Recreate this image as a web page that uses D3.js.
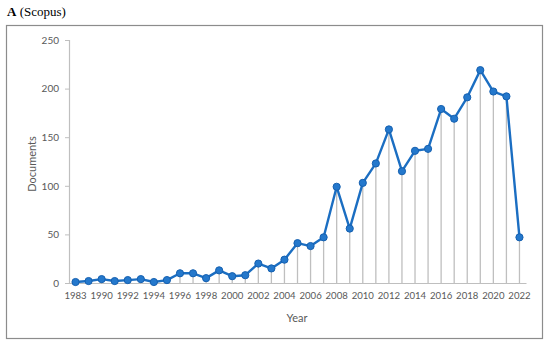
<!DOCTYPE html>
<html>
<head>
<meta charset="utf-8">
<script src="https://cdn.jsdelivr.net/npm/d3@7"></script>
<style>
  body { margin: 0; background: #fff; }
  svg text { font-family: Lato, "Open Sans", sans-serif; }
</style>
</head>
<body>
<svg id="chart" width="550" height="344"></svg>
<script>
// Documents per year (Scopus)
const years = ["1983", "1989", "1990", "1991", "1992", "1993", "1994", "1995", "1996", "1997",
  "1998", "1999", "2000", "2001", "2002", "2003", "2004", "2005", "2006", "2007",
  "2008", "2009", "2010", "2011", "2012", "2013", "2014", "2015", "2016", "2017",
  "2018", "2019", "2020", "2021", "2022"];
const documents = [1, 2, 4, 2, 3, 4, 1, 3, 10, 10,
  5, 13, 7, 8, 20, 15, 24, 41, 38, 47,
  99, 56, 103, 123, 158, 115, 136, 138, 179, 169,
  191, 219, 197, 192, 47];
const yTicks = [0, 50, 100, 150, 200, 250];

const data = years.map((y, i) => ({year: y, value: documents[i]}));

const svg = d3.select("#chart");
const textColor = "#595959";
const axisColor = "#bfbfbf";

// outer frame
svg.append("rect")
  .attr("x", 6.5).attr("y", 25.5)
  .attr("width", 536).attr("height", 313)
  .attr("fill", "none").attr("stroke", "#8c8c8c").attr("stroke-width", 1.2);

// title
const title = svg.append("text")
  .attr("x", 7).attr("y", 16)
  .style("font-family", "'Liberation Serif', 'DejaVu Serif', serif")
  .style("font-size", "13px").attr("fill", "#000");
title.append("tspan").style("font-weight", "bold").text("A");
title.append("tspan").style("font-weight", "normal").text(" (Scopus)");

// scales
const x = d3.scaleBand().domain(years).range([69, 526]);
const y = d3.scaleLinear().domain([0, 250]).range([283, 40]);
const cx = d => x(d) + x.bandwidth() / 2;

// y axis
const yAxis = svg.append("g")
  .attr("transform", "translate(69,0)")
  .call(d3.axisLeft(y).tickValues(yTicks).tickSize(4).tickPadding(6));
yAxis.select(".domain").attr("stroke", axisColor).attr("stroke-width", 1.2);
yAxis.selectAll(".tick line").attr("stroke", axisColor);
yAxis.selectAll(".tick text").attr("fill", textColor).style("font-size", "10px")
  .style("font-family", "Lato, 'Open Sans', sans-serif");
yAxis.selectAll(".tick").filter(d => d === 0).select("line").remove();

// x axis
const xAxis = svg.append("g")
  .attr("transform", "translate(0,283)")
  .call(d3.axisBottom(x).tickSize(0).tickPadding(9)
    .tickFormat((d, i) => i % 2 === 0 ? d : ""));
xAxis.select(".domain").attr("stroke", axisColor).attr("stroke-width", 1.2);
xAxis.selectAll(".tick text").attr("fill", textColor).style("font-size", "9.6px")
  .style("font-family", "Lato, 'Open Sans', sans-serif");

// axis titles
svg.append("text")
  .attr("x", 297).attr("y", 322)
  .attr("text-anchor", "middle").attr("fill", textColor)
  .style("font-size", "11px").text("Year");
svg.append("text")
  .attr("transform", "translate(36,164) rotate(-90)")
  .attr("text-anchor", "middle").attr("fill", textColor)
  .style("font-size", "11px").text("Documents");

// drop lines
svg.append("g").selectAll("line")
  .data(data).join("line")
  .attr("x1", d => cx(d.year)).attr("x2", d => cx(d.year))
  .attr("y1", d => y(d.value)).attr("y2", y(0))
  .attr("stroke", axisColor).attr("stroke-width", 1.3);

// line
svg.append("path")
  .datum(data)
  .attr("fill", "none")
  .attr("stroke", "#1b6ec2")
  .attr("stroke-width", 2.4)
  .attr("stroke-linejoin", "round")
  .attr("d", d3.line().x(d => cx(d.year)).y(d => y(d.value)));

// markers
svg.append("g").selectAll("circle")
  .data(data).join("circle")
  .attr("cx", d => cx(d.year)).attr("cy", d => y(d.value))
  .attr("r", 3.6)
  .attr("fill", "#2478cc")
  .attr("stroke", "#1560b0").attr("stroke-width", 1);
</script>
</body>
</html>
